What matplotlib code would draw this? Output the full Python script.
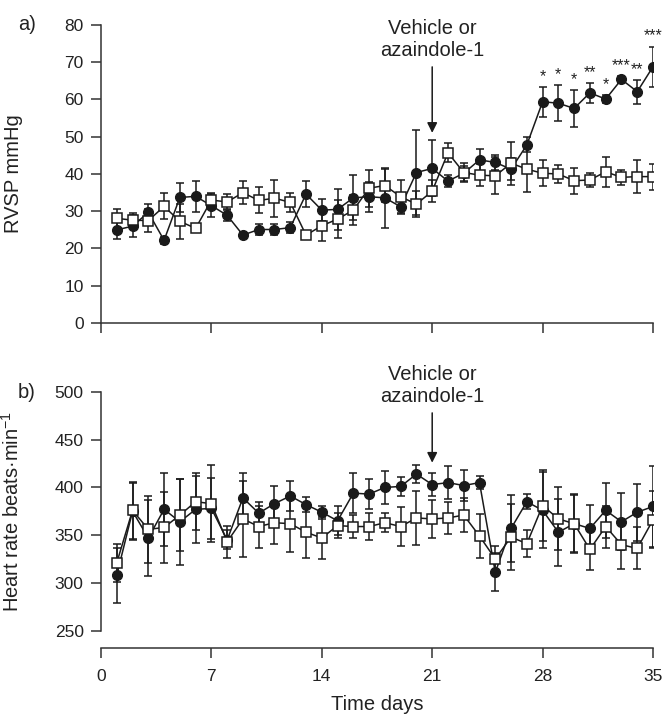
import matplotlib
matplotlib.use("Agg")
import matplotlib.pyplot as plt
import numpy as np

plt.rcParams['font.family'] = ['Liberation Sans', 'DejaVu Sans']
plt.rcParams['mathtext.default'] = 'regular'

days = list(range(1, 36))

# Panel a: RVSP (mmHg)
rvsp_aza = [25.0, 26.0, 29.7, 22.2, 33.7, 34.0, 31.5, 28.9, 23.6, 25.1,
            25.1, 25.6, 34.6, 30.3, 30.5, 33.6, 33.9, 33.6, 31.2, 40.4,
            41.5, 38.1, 40.2, 43.8, 43.1, 41.3, 47.8, 59.4, 59.0, 57.6,
            61.8, 60.1, 65.4, 62.1, 68.8]
rvsp_aza_err = [2.5, 3.0, 2.2, 1.0, 3.8, 4.2, 3.0, 1.5, 0.8, 1.5,
                1.5, 1.5, 3.4, 3.0, 5.6, 6.0, 4.0, 8.0, 2.0, 11.5,
                7.5, 1.5, 2.0, 3.0, 2.0, 3.0, 2.0, 4.0, 4.8, 5.0,
                2.7, 1.0, 1.0, 3.2, 5.4]
rvsp_veh = [28.1, 27.6, 27.5, 31.3, 27.3, 25.4, 33.0, 32.5, 35.0, 32.9,
            33.5, 32.4, 23.6, 26.1, 27.9, 30.3, 36.2, 36.9, 33.9, 31.9,
            35.4, 45.7, 40.4, 39.7, 39.5, 42.9, 41.3, 40.2, 40.0, 38.2,
            38.4, 40.6, 39.1, 39.3, 39.3]
rvsp_veh_err = [2.6, 1.8, 3.0, 3.5, 4.7, 1.0, 2.0, 2.0, 3.0, 3.5,
                5.0, 2.5, 1.0, 4.0, 5.0, 4.0, 5.0, 4.5, 4.5, 3.5,
                3.0, 2.5, 2.5, 3.0, 5.0, 5.8, 6.0, 3.5, 2.5, 3.5,
                2.0, 4.0, 2.0, 4.5, 3.5]
sig_days = [28, 29, 30, 31, 32, 33, 34, 35]
sig_marks = ['*', '*', '*', '**', '*', '***', '**', '***']

# Panel b: heart rate (beats/min)
hr_aza = [308, 375, 347, 377, 364, 377, 378, 345, 389, 373,
          383, 391, 382, 374, 365, 394, 393, 400, 401, 414,
          403, 405, 402, 405, 311, 357, 385, 376, 353, 362,
          357, 376, 364, 374, 380]
hr_aza_err = [29, 30, 40, 38, 45, 35, 32, 10, 26, 12,
              19, 16, 8, 7, 15, 21, 16, 17, 10, 9,
              12, 17, 16, 7, 20, 35, 8, 40, 35, 30,
              25, 29, 30, 30, 42]
hr_veh = [321, 376, 356, 358, 371, 385, 383, 343, 367, 359,
          363, 362, 353, 347, 360, 359, 359, 363, 359, 368,
          367, 368, 371, 349, 325, 348, 341, 381, 367, 362,
          335, 359, 340, 336, 366]
hr_veh_err = [20, 30, 35, 37, 38, 30, 40, 17, 40, 22,
              22, 30, 27, 22, 13, 12, 14, 10, 20, 28,
              20, 17, 18, 23, 14, 35, 14, 37, 33, 31,
              22, 22, 25, 22, 30]

xticks = [0, 7, 14, 21, 28, 35]
yticks_a = [0, 10, 20, 30, 40, 50, 60, 70, 80]
yticks_b = [250, 300, 350, 400, 450, 500]

W, H = 664, 714
fig = plt.figure(figsize=(W / 100, H / 100), dpi=100)

def px_rect(left, top, right, bottom):
    return [left / W, 1 - bottom / H, (right - left) / W, (bottom - top) / H]

axa = fig.add_axes(px_rect(101, 25, 653, 323))
axb = fig.add_axes(px_rect(101, 392, 653, 648))

lc = '#1a1a1a'
tc = '#222222'
FS_TICK = 12.5
FS_LAB = 14.5

def draw(ax, y1, e1, y2, e2):
    ax.errorbar(days, y1, yerr=e1, color=lc, lw=1.1, marker='o', ms=7,
                mfc=lc, mec=lc, capsize=2.8, elinewidth=1.1, capthick=1.1, zorder=3)
    ax.errorbar(days, y2, yerr=e2, color=lc, lw=1.1, marker='s', ms=6.8,
                mfc='white', mec=lc, mew=1.1, capsize=2.8, elinewidth=1.1,
                capthick=1.1, zorder=4)

draw(axa, rvsp_aza, rvsp_aza_err, rvsp_veh, rvsp_veh_err)
draw(axb, hr_aza, hr_aza_err, hr_veh, hr_veh_err)

for ax in (axa, axb):
    ax.spines['top'].set_visible(False)
    ax.spines['right'].set_visible(False)
    for s in ('left', 'bottom'):
        ax.spines[s].set_color('#333333')
        ax.spines[s].set_linewidth(1.1)
    ax.set_xlim(0, 35)
    ax.set_xticks(xticks)
    ax.tick_params(axis='both', direction='out', length=7.5, width=1.1,
                   color='#333333', labelsize=FS_TICK, labelcolor=tc)
    ax.tick_params(axis='y', pad=5)
    ax.tick_params(axis='x', pad=7.5)
    ax.spines['bottom'].set_bounds(0, 35)

axa.set_ylim(0, 80)
axa.set_yticks(yticks_a)
axa.set_xticklabels([])
axa.set_ylabel('RVSP mmHg', fontsize=FS_LAB, color=tc)
axa.yaxis.set_label_coords(-0.142, 0.5)

axb.set_ylim(231.7, 500)
axb.set_yticks(yticks_b)
axb.spines['left'].set_bounds(250, 500)
axb.set_xlabel('Time days', fontsize=FS_LAB, color=tc)
axb.xaxis.set_label_coords(0.5, (648 - 705) / 256)
axb.xaxis.label.set_verticalalignment('center')
axb.set_ylabel('Heart rate beats·min$^{-1}$', fontsize=FS_LAB, color=tc)
axb.yaxis.set_label_coords(-0.142, (375 - 231.7) / (500 - 231.7))

# significance stars
for d, m in zip(sig_days, sig_marks):
    i = days.index(d)
    axa.text(d, rvsp_aza[i] + rvsp_aza_err[i] + 0.8, m, ha='center', va='bottom',
             fontsize=11.5, color=tc)

# annotations
axa.text(21, 76.0, 'Vehicle or\nazaindole-1', ha='center', va='center',
         fontsize=FS_LAB, color=tc, linespacing=1.2)
axa.annotate('', xy=(21, 50.3), xytext=(21, 69.5),
             arrowprops=dict(arrowstyle='-|>', color=lc, lw=1.1,
                             mutation_scale=15))
axb.text(21, 506.5, 'Vehicle or\nazaindole-1', ha='center', va='center',
         fontsize=FS_LAB, color=tc, linespacing=1.2)
axb.annotate('', xy=(21, 423), xytext=(21, 481),
             arrowprops=dict(arrowstyle='-|>', color=lc, lw=1.1,
                             mutation_scale=15))

fig.text(18 / W, 1 - 25 / H, 'a)', fontsize=FS_LAB, color=tc, va='center')
fig.text(18 / W, 1 - 392 / H, 'b)', fontsize=FS_LAB, color=tc, va='center')

fig.savefig('out.png', dpi=100)
